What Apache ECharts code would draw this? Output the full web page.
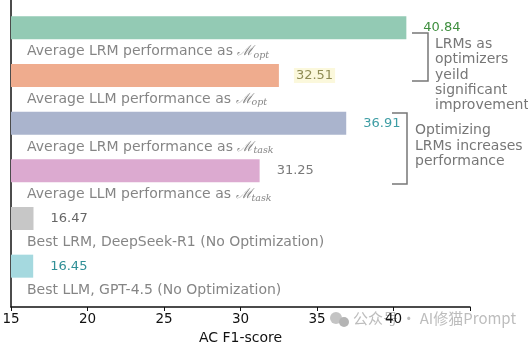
<!DOCTYPE html>
<html>
<head>
<meta charset="utf-8">
<script src="https://cdn.jsdelivr.net/npm/echarts@6/dist/echarts.min.js"></script>
<style>html,body{margin:0;padding:0;background:#fff}#c{width:528px;height:342px}</style>
</head>
<body>
<div id="c"></div>
<script>
// ---- data ----
var categories = ['lrm_opt', 'llm_opt', 'lrm_task', 'llm_task', 'r1', 'gpt45'];
var values = [40.84, 32.51, 36.91, 31.25, 16.47, 16.45];
var descPrefix = [
  'Average LRM performance as ',
  'Average LLM performance as ',
  'Average LRM performance as ',
  'Average LLM performance as ',
  'Best LRM, DeepSeek-R1 (No Optimization)',
  'Best LLM, GPT-4.5 (No Optimization)'
];
var descSub = ['opt', 'opt', 'task', 'task', '', ''];
var xTicks = [15, 20, 25, 30, 35, 40, 45];

// ---- styles ----
var barColors = ['#93cab4', '#efac8e', '#aab4cd', '#dcaad0', '#c7c7c7', '#a5d9df'];
var valColors = ['#3f8f3f', '#8f8c55', '#3e9da4', '#7a7a7a', '#666666', '#2f8f96'];
var valBg = ['transparent', '#fbf8dc', 'transparent', 'transparent', 'transparent', 'transparent'];
var FONT = 'DejaVu Sans';

var chart = echarts.init(document.getElementById('c'), null, {renderer: 'canvas'});

var barData = values.map(function (v, i) {
  return {
    value: v,
    itemStyle: {color: barColors[i]},
    label: {color: valColors[i], backgroundColor: valBg[i]}
  };
});
var descData = categories.map(function (c, i) {
  return {value: [xTicks[0], c], idx: i};
});

chart.setOption({
  animation: false,
  textStyle: {fontFamily: FONT},
  grid: [
    {left: 11, right: 58, top: 4, height: 286, containLabel: false, outerBoundsMode: 'none'},
    {left: 11, right: 58, top: 0, bottom: 35, containLabel: false, outerBoundsMode: 'none'}
  ],
  xAxis: [
    {gridIndex: 0, type: 'value', min: 15, max: 45, interval: 5, show: false},
    {gridIndex: 1, type: 'value', min: 15, max: 45, interval: 5,
      axisLine: {show: true, lineStyle: {color: '#111', width: 1.5}},
      axisTick: {show: true, length: 4, lineStyle: {color: '#111'}},
      axisLabel: {color: '#111', fontSize: 13.5, fontFamily: FONT, margin: 5,
        formatter: function (v) { return v === 45 ? '' : String(v); }},
      splitLine: {show: false},
      name: 'AC F1-score', nameLocation: 'middle', nameGap: 21,
      nameTextStyle: {color: '#111', fontSize: 14, fontFamily: FONT, verticalAlign: 'top'}}
  ],
  yAxis: [
    {gridIndex: 0, type: 'category', data: categories, inverse: true, show: false},
    {gridIndex: 1, type: 'value', min: 0, max: 1,
      axisLine: {show: true, lineStyle: {color: '#111', width: 1.5}},
      axisTick: {show: false}, axisLabel: {show: false}, splitLine: {show: false}}
  ],
  series: [
    {
      type: 'bar', xAxisIndex: 0, yAxisIndex: 0, data: barData, barWidth: 23,
      label: {show: true, position: 'right', distance: 15, fontSize: 13, fontFamily: FONT,
        padding: [1, 2, 1, 2],
        formatter: function (p) { return p.value.toFixed(2); }}
    },
    {
      type: 'scatter', xAxisIndex: 0, yAxisIndex: 0, data: descData, symbolSize: 0,
      label: {
        show: true, position: 'right', distance: 16, offset: [0, 24],
        color: '#676767', fontSize: 14, fontFamily: FONT,
        formatter: function (p) {
          var i = p.data.idx;
          if (!descSub[i]) return '{t|' + descPrefix[i] + '}';
          return '{t|' + descPrefix[i] + '}{m|ℳ}{s|' + descSub[i] + '}';
        },
        rich: {
          t: {color: '#676767', fontSize: 14, fontFamily: FONT},
          m: {color: '#676767', fontSize: 14, fontFamily: 'DejaVu Serif', fontStyle: 'italic'},
          s: {color: '#676767', fontSize: 9.5, fontFamily: 'DejaVu Serif', fontStyle: 'italic', padding: [7, 0, 0, 0]}
        }
      }
    }
  ],
  graphic: [
    // bracket 1
    {type: 'polyline', shape: {points: [[412, 33], [428, 33], [428, 81], [412, 81]]},
      style: {stroke: '#777', lineWidth: 1.5, fill: null}},
    {type: 'text', left: 435, top: 37, style: {
      text: 'LRMs as\noptimizers\nyeild\nsignificant\nimprovement',
      fill: '#777', font: '14px "DejaVu Sans"', lineHeight: 15.2}},
    // bracket 2
    {type: 'polyline', shape: {points: [[392, 113], [407, 113], [407, 184], [392, 184]]},
      style: {stroke: '#777', lineWidth: 1.5, fill: null}},
    {type: 'text', left: 415, top: 123, style: {
      text: 'Optimizing\nLRMs increases\nperformance',
      fill: '#777', font: '14px "DejaVu Sans"', lineHeight: 15.5}},
    // watermark
    {type: 'circle', shape: {cx: 336, cy: 318, r: 6}, style: {fill: '#c4c4c4'}},
    {type: 'circle', shape: {cx: 344, cy: 322, r: 5}, style: {fill: '#b4b4b4'}},
    {type: 'text', left: 353, top: 311, style: {
      text: '公众号 · AI修猫Prompt', fill: '#bdbdbd',
      font: '15px "Noto Sans CJK SC"'}}
  ]
});
</script>
</body>
</html>
